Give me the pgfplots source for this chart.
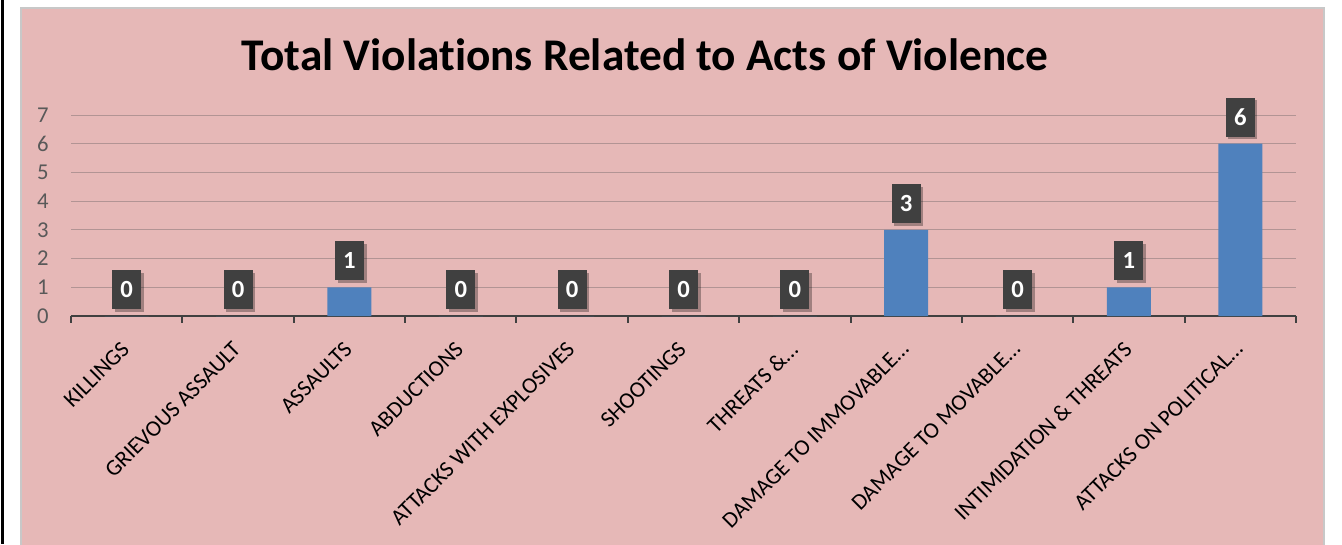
\documentclass[border=0pt]{standalone}
\usepackage{fontspec}
\setmainfont{Carlito}[Ligatures=NoCommon]
\usepackage{pgfplots}
\pgfplotsset{compat=1.18}
\usetikzlibrary{shadows}
\definecolor{pinkbg}{HTML}{E6B8B7}
\definecolor{barblue}{HTML}{4F81BD}
\definecolor{labelbg}{HTML}{404040}
\definecolor{gridc}{RGB}{178,148,148}
\definecolor{axisc}{HTML}{404040}
\definecolor{ytc}{HTML}{595959}
\definecolor{borderc}{HTML}{C8C8C8}
\begin{document}
\begin{tikzpicture}[x=0.75pt,y=0.75pt]
\useasboundingbox (0,0) rectangle (1342,544);
\fill[white] (0,0) rectangle (1342,544);
\fill[black] (1,0) rectangle (4,544);
\fill[pinkbg, draw=borderc, line width=1.5pt] (21,-5) rectangle (1324,536);
\node[font=\bfseries\fontsize{34}{38}\selectfont, anchor=base] at (645,474) {Total Violations Related to Acts of Violence};
\begin{axis}[
  at={(53.25pt,171pt)}, anchor=south west,
  scale only axis, width=918.75pt, height=150.75pt,
  xmin=-0.5, xmax=10.5, ymin=0, ymax=7,
  axis x line*=bottom, axis y line*=left,
  y axis line style={draw=none},
  x axis line style={draw=axisc, line width=2.2pt},
  xtick={0,...,10},
  minor xtick={-0.5,0.5,...,10.5},
  major tick length=0pt,
  minor tick length=5pt,
  tick align=outside,
  minor x tick style={draw=axisc, line width=1.5pt},
  ytick={0,...,7},
  ymajorgrids,
  major grid style={draw=gridc, line width=0.75pt},
  /pgf/number format/assume math mode=true,
  yticklabel style={font=\fontsize{17}{17}\selectfont, text=ytc, inner sep=0pt, anchor=east, xshift=-16.5pt},
  xticklabels={KILLINGS, GRIEVOUS ASSAULT, ASSAULTS, ABDUCTIONS, ATTACKS WITH EXPLOSIVES, SHOOTINGS, {THREATS \&…}, {DAMAGE TO IMMOVABLE…}, {DAMAGE TO MOVABLE…}, {INTIMIDATION \& THREATS}, {ATTACKS ON POLITICAL…}},
  xticklabel style={font=\fontsize{17}{17}\selectfont, xshift=-5pt, yshift=-18pt, rotate=45, anchor=north east, inner sep=0pt},
  ybar, bar width=33pt,
  clip=false,
  nodes near coords,
  nodes near coords style={fill=labelbg, text=white, font=\bfseries\fontsize{18.5}{18.5}\selectfont,
     minimum width=21.75pt, minimum height=29.25pt, inner sep=0pt, anchor=south, yshift=5pt,
     drop shadow={shadow xshift=2pt, shadow yshift=-2pt, opacity=0.3, fill=black}},
]
\addplot[fill=barblue, draw=none] coordinates {(0,0) (1,0) (2,1) (3,0) (4,0) (5,0) (6,0) (7,3) (8,0) (9,1) (10,6)};
\end{axis}
\end{tikzpicture}
\end{document}
